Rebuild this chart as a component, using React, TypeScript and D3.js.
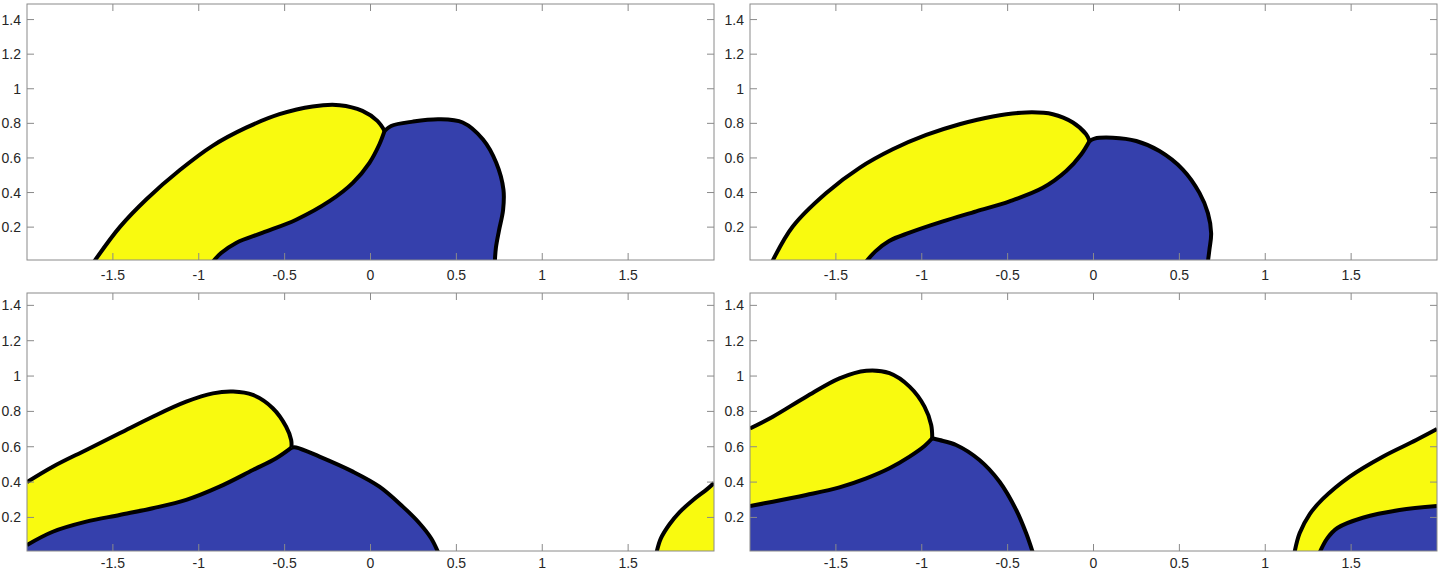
import * as d3 from "d3";

// tick values
const xTicks = [-1.5, -1, -0.5, 0, 0.5, 1, 1.5];
const yTicks = [0.2, 0.4, 0.6, 0.8, 1, 1.2, 1.4];

// panel 1 (top left)
const p1Yellow: [number, number][] = [
  [-1.61, 0], [-1.46, 0.2], [-1.306, 0.36], [-1.11, 0.53], [-0.92, 0.67], [-0.724, 0.775],
  [-0.53, 0.853], [-0.337, 0.898], [-0.18, 0.905], [-0.047, 0.872], [0.04, 0.814], [0.082, 0.756],
];
const p1Interface: [number, number][] = [
  [-0.918, 0], [-0.87, 0.05], [-0.78, 0.11], [-0.627, 0.168], [-0.433, 0.243], [-0.239, 0.35],
  [-0.103, 0.456], [-0.006, 0.572], [0.052, 0.679], [0.082, 0.756],
];
const p1Blue: [number, number][] = [
  [0.082, 0.756], [0.12, 0.785], [0.246, 0.81], [0.4, 0.824], [0.537, 0.805], [0.654, 0.708],
  [0.732, 0.572], [0.774, 0.417], [0.772, 0.3], [0.748, 0.18], [0.73, 0.08], [0.724, 0],
];

// panel 2 (top right)
const p2Yellow: [number, number][] = [
  [-1.871, 0], [-1.751, 0.204], [-1.556, 0.398], [-1.362, 0.543], [-1.169, 0.65], [-0.974, 0.733],
  [-0.78, 0.795], [-0.586, 0.84], [-0.392, 0.863], [-0.237, 0.853], [-0.12, 0.805], [-0.043, 0.737],
  [-0.023, 0.698],
];
const p2Interface: [number, number][] = [
  [-1.324, 0], [-1.27, 0.06], [-1.19, 0.12], [-1.071, 0.168], [-0.877, 0.233], [-0.683, 0.291],
  [-0.489, 0.349], [-0.295, 0.427], [-0.159, 0.524], [-0.072, 0.62], [-0.023, 0.698],
];
const p2Blue: [number, number][] = [
  [-0.023, 0.698], [0.006, 0.712], [0.112, 0.717], [0.249, 0.698], [0.384, 0.64], [0.52, 0.533],
  [0.617, 0.398], [0.666, 0.281], [0.685, 0.165], [0.675, 0.07], [0.666, 0],
];

// panel 3 (bottom left)
const p3Yellow: [number, number][] = [
  [-2, 0.4], [-1.85, 0.487], [-1.655, 0.582], [-1.461, 0.676], [-1.268, 0.77], [-1.073, 0.855],
  [-0.918, 0.902], [-0.8, 0.912], [-0.685, 0.893], [-0.569, 0.818], [-0.491, 0.713], [-0.462, 0.638],
  [-0.46, 0.595],
];
const p3Interface: [number, number][] = [
  [-2, 0.044], [-1.85, 0.119], [-1.655, 0.176], [-1.461, 0.214], [-1.268, 0.252], [-1.073, 0.299],
  [-0.879, 0.374], [-0.685, 0.468], [-0.549, 0.535], [-0.46, 0.595],
];
const p3Blue: [number, number][] = [
  [-0.46, 0.595], [-0.433, 0.596], [-0.297, 0.544], [-0.103, 0.459], [0.052, 0.374], [0.188, 0.261],
  [0.285, 0.167], [0.353, 0.082], [0.395, 0],
];
const p3YellowRight: [number, number][] = [
  [1.665, 0], [1.69, 0.08], [1.74, 0.16], [1.8, 0.23], [1.88, 0.3], [1.96, 0.36], [2, 0.395],
];

// panel 4 (bottom right)
const p4Yellow: [number, number][] = [
  [-2, 0.704], [-1.867, 0.77], [-1.673, 0.883], [-1.479, 0.987], [-1.323, 1.03], [-1.188, 1.016],
  [-1.071, 0.94], [-0.984, 0.827], [-0.945, 0.723], [-0.939, 0.648],
];
const p4Interface: [number, number][] = [
  [-2, 0.265], [-1.867, 0.289], [-1.673, 0.327], [-1.479, 0.37], [-1.323, 0.421], [-1.188, 0.478],
  [-1.071, 0.544], [-0.984, 0.604], [-0.939, 0.648],
];
const p4Blue: [number, number][] = [
  [-0.939, 0.648], [-0.897, 0.638], [-0.8, 0.61], [-0.664, 0.525], [-0.547, 0.402], [-0.45, 0.242],
  [-0.392, 0.11], [-0.353, 0],
];
const p4YellowRight: [number, number][] = [
  [1.17, 0], [1.2, 0.11], [1.26, 0.22], [1.335, 0.305], [1.49, 0.43], [1.684, 0.544], [1.879, 0.638], [2, 0.7],
];
const p4InterfaceRight: [number, number][] = [
  [1.316, 0], [1.36, 0.08], [1.42, 0.14], [1.568, 0.198], [1.782, 0.242], [2, 0.265],
];

const YELLOW = "#f9fa0f";
const BLUE = "#3540ac";

type Pt = [number, number];
type Panel = {
  id: string;
  left: number;
  top: number;
  width: number;
  height: number;
  yDomain: [number, number];
  labelOffset: number;
  yellow: Pt[];
  iface: Pt[];
  blue: Pt[];
  yellowRight?: Pt[];
  ifaceRight?: Pt[];
};

const panels: Panel[] = [
  { id: "a", left: 27, top: 4, width: 687, height: 256, yDomain: [0.01, 1.49], labelOffset: 20, yellow: p1Yellow, iface: p1Interface, blue: p1Blue },
  { id: "b", left: 750, top: 4, width: 687, height: 256, yDomain: [0.01, 1.49], labelOffset: 20, yellow: p2Yellow, iface: p2Interface, blue: p2Blue },
  { id: "c", left: 27, top: 293, width: 687, height: 258, yDomain: [0.01, 1.47], labelOffset: 17, yellow: p3Yellow, iface: p3Interface, blue: p3Blue, yellowRight: p3YellowRight },
  { id: "d", left: 750, top: 293, width: 687, height: 258, yDomain: [0.01, 1.47], labelOffset: 17, yellow: p4Yellow, iface: p4Interface, blue: p4Blue, yellowRight: p4YellowRight, ifaceRight: p4InterfaceRight },
];

function PanelView({ p }: { p: Panel }) {
  const x = d3.scaleLinear().domain([-2, 2]).range([0, p.width]);
  const y = d3.scaleLinear().domain(p.yDomain).range([p.height, 0]);
  const line = d3
    .line<Pt>()
    .x((d) => x(d[0]))
    .y((d) => y(d[1]))
    .curve(d3.curveCatmullRom.alpha(0.5));
  const join = (...parts: (Pt[] | string)[]) =>
    parts
      .map((part, i) => {
        const s = typeof part === "string" ? part : line(part) || "";
        return i === 0 ? s : s.replace(/^M/, "L");
      })
      .join("") + "Z";
  const rev = (a: Pt[]) => a.slice().reverse();
  const corner = (cx: number, cy: number) => `M${x(cx)},${y(cy)}`;

  const yellowFill = join(p.yellow, rev(p.iface));
  const blueFill =
    p.iface[0][0] <= -2 ? join(p.iface, p.blue, corner(-2, 0)) : join(p.iface, p.blue);
  const clipId = `clip-${p.id}`;
  const tickLen = 7;
  const font = "'Liberation Sans', Arial, sans-serif";

  return (
    <g transform={`translate(${p.left},${p.top})`}>
      <defs>
        <clipPath id={clipId}>
          <rect x={0} y={0} width={p.width} height={p.height} />
        </clipPath>
      </defs>
      <g clipPath={`url(#${clipId})`}>
        <path d={yellowFill} fill={YELLOW} />
        <path d={blueFill} fill={BLUE} />
        {p.yellowRight && (
          <path
            d={
              p.ifaceRight
                ? join(p.yellowRight, rev(p.ifaceRight))
                : join(p.yellowRight, corner(2, 0))
            }
            fill={YELLOW}
          />
        )}
        {p.ifaceRight && <path d={join(p.ifaceRight, corner(2, 0))} fill={BLUE} />}
        {[p.yellow, p.iface, p.blue, p.yellowRight, p.ifaceRight]
          .filter((c): c is Pt[] => !!c)
          .map((c, i) => (
            <path key={i} d={line(c) || ""} fill="none" stroke="#000" strokeWidth={4} strokeLinejoin="round" />
          ))}
      </g>
      {/* box + ticks */}
      <rect x={0} y={0} width={p.width} height={p.height} fill="none" stroke="#8a8a8a" strokeWidth={1} />
      {xTicks.map((t) => (
        <g key={`x${t}`} stroke="#8a8a8a">
          <line x1={x(t)} x2={x(t)} y1={p.height} y2={p.height - tickLen} />
          <line x1={x(t)} x2={x(t)} y1={0} y2={tickLen} />
        </g>
      ))}
      {yTicks.map((t) => (
        <g key={`y${t}`} stroke="#8a8a8a">
          <line x1={0} x2={tickLen} y1={y(t)} y2={y(t)} />
          <line x1={p.width} x2={p.width - tickLen} y1={y(t)} y2={y(t)} />
        </g>
      ))}
      {xTicks.map((t) => (
        <text key={`xl${t}`} x={x(t)} y={p.height + p.labelOffset} textAnchor="middle" fontSize={14} fill="#262626" fontFamily={font}>
          {String(t)}
        </text>
      ))}
      {yTicks.map((t) => (
        <text key={`yl${t}`} x={-6} y={y(t) + 5} textAnchor="end" fontSize={14} fill="#262626" fontFamily={font}>
          {String(t)}
        </text>
      ))}
    </g>
  );
}

export default function App() {
  return (
    <svg width={1443} height={572} style={{ position: "absolute", left: 0, top: 0, background: "#fff" }}>
      <rect width={1443} height={572} fill="#fff" />
      {panels.map((p) => (
        <PanelView key={p.id} p={p} />
      ))}
    </svg>
  );
}
